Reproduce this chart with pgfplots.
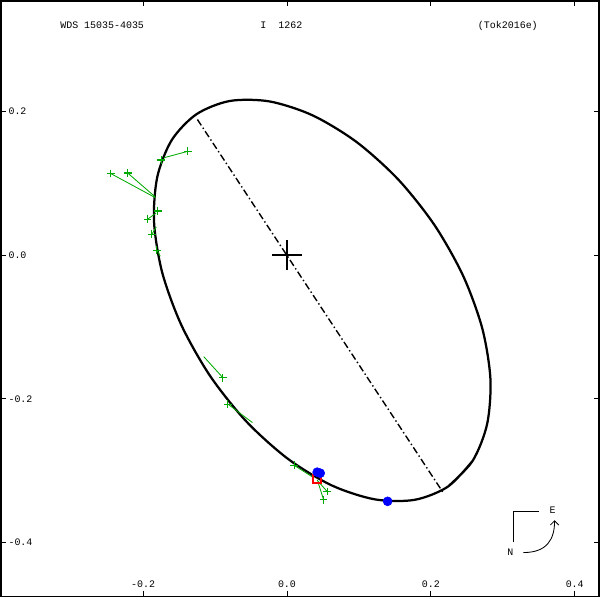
\documentclass[border=0pt]{standalone}
\usepackage{pgfplots}
\pgfplotsset{compat=1.18}
\usetikzlibrary{arrows.meta}
\usepackage{fontspec}
\setmainfont{Liberation Mono}
\definecolor{obsgreen}{RGB}{0,170,0}
\begin{document}
\fontsize{7.1}{8.5}\selectfont
\begin{tikzpicture}
\begin{axis}[
  scale only axis, width=15cm, height=14.93cm,
  xmin=-0.3978, xmax=0.434, ymin=-0.475, ymax=0.354,
  axis line style={line width=1.2pt},
  tick style={black, line width=0.6pt},
  tick align=inside, major tick length=3.5pt,
  xtick={-0.2,0,0.2,0.4}, xticklabels={-0.2,0.0,0.2,0.4},
  ytick={-0.4,-0.2,0,0.2}, yticklabels={-0.4,-0.2,0.0,0.2},
  xticklabel style={anchor=base, yshift=6.4pt, inner sep=0pt, font=\fontsize{7.1}{8.5}\selectfont},
  yticklabel style={anchor=west, xshift=5.3pt, inner sep=0pt, font=\fontsize{7.1}{8.5}\selectfont},
  clip=false,
]
% orbit
\addplot[black, line width=1.6pt, smooth] coordinates {
(0.2238,-0.3222)(0.2582,-0.2862)(0.2783,-0.2349)(0.2828,-0.1720)(0.2714,-0.1016)(0.2448,-0.0286)
(0.2049,0.0421)(0.1544,0.1056)(0.0966,0.1576)(0.0356,0.1946)(-0.0244,0.2140)(-0.0795,0.2146)
(-0.1258,0.1962)(-0.1602,0.1602)(-0.1803,0.1089)(-0.1848,0.0460)(-0.1734,-0.0244)(-0.1468,-0.0974)
(-0.1069,-0.1681)(-0.0564,-0.2316)(0.0014,-0.2836)(0.0624,-0.3206)(0.1224,-0.3400)(0.1775,-0.3406)
(0.2238,-0.3222)(0.2582,-0.2862)};
% line of nodes
\addplot[black, line width=1pt, dash pattern=on 5pt off 2pt on 1pt off 2pt] coordinates {(-0.1245,0.1888)(0.2168,-0.3301)};
% O-C lines
\pgfplotsset{ocline/.style={obsgreen, line width=0.6pt, forget plot}}
\addplot[ocline] coordinates {(-0.1380,0.1445)(-0.1706,0.1357)};
\addplot[ocline] coordinates {(-0.2452,0.1137)(-0.1832,0.0801)};
\addplot[ocline] coordinates {(-0.2214,0.1143)(-0.1832,0.0811)};
\addplot[ocline] coordinates {(-0.1940,0.0499)(-0.1818,0.0587)};
\addplot[ocline] coordinates {(-0.1878,0.0290)(-0.1818,0.0392)};
\addplot[ocline] coordinates {(-0.1808,0.0070)(-0.1762,-0.0014)};
\addplot[ocline] coordinates {(-0.0891,-0.1706)(-0.1157,-0.1413)};
\addplot[ocline] coordinates {(-0.0821,-0.2074)(-0.0480,-0.2331)};
\addplot[ocline] coordinates {(0.0102,-0.2927)(0.0359,-0.3091)};
\addplot[ocline] coordinates {(0.0559,-0.3291)(0.0420,-0.3133)};
\addplot[ocline] coordinates {(0.0508,-0.3403)(0.0429,-0.3151)};
% observations
\addplot[only marks, mark=+, mark size=2.8pt, color=obsgreen, mark options={draw=obsgreen, line width=0.8pt}] coordinates {
(-0.1380,0.1445)(-0.1748,0.1324)(-0.2452,0.1137)(-0.2214,0.1143)(-0.1794,0.0615)(-0.1940,0.0499)
(-0.1878,0.0290)(-0.1808,0.0070)(-0.0891,-0.1706)(-0.0821,-0.2074)(0.0102,-0.2927)(0.0559,-0.3291)(0.0508,-0.3403)};
\addplot[only marks, mark=square, mark size=3pt, red, line width=1.4pt] coordinates {(0.0420,-0.3119)};
\addplot[only marks, mark=*, mark size=3.2pt, blue] coordinates {(0.0420,-0.3021)(0.0462,-0.3035)(0.1399,-0.3427)};
% primary
\addplot[only marks, mark=+, mark size=10.7pt, black, line width=1.4pt] coordinates {(0,0)};
% titles
\node[anchor=base west, inner sep=0pt] at (rel axis cs:0.099,0.953) {WDS 15035-4035};
\node[anchor=base west, inner sep=0pt] at (rel axis cs:0.4335,0.953) {I\ \ 1262};
\node[anchor=base west, inner sep=0pt] at (rel axis cs:0.797,0.953) {(Tok2016e)};
% compass
\draw[black, line width=0.6pt] (axis cs:0.3147,-0.4) -- (axis cs:0.3147,-0.3566) -- (axis cs:0.3510,-0.3566);
\node[inner sep=0pt] at (axis cs:0.3692,-0.3552) {E};
\node[inner sep=0pt] at (axis cs:0.3105,-0.4140) {N};
\draw[black, line width=0.6pt, -{Straight Barb[length=3pt]}] (axis cs:0.3287,-0.4140) .. controls (axis cs:0.362,-0.4140) and (axis cs:0.372,-0.395) .. (axis cs:0.372,-0.3690);
\end{axis}
\end{tikzpicture}
\end{document}
